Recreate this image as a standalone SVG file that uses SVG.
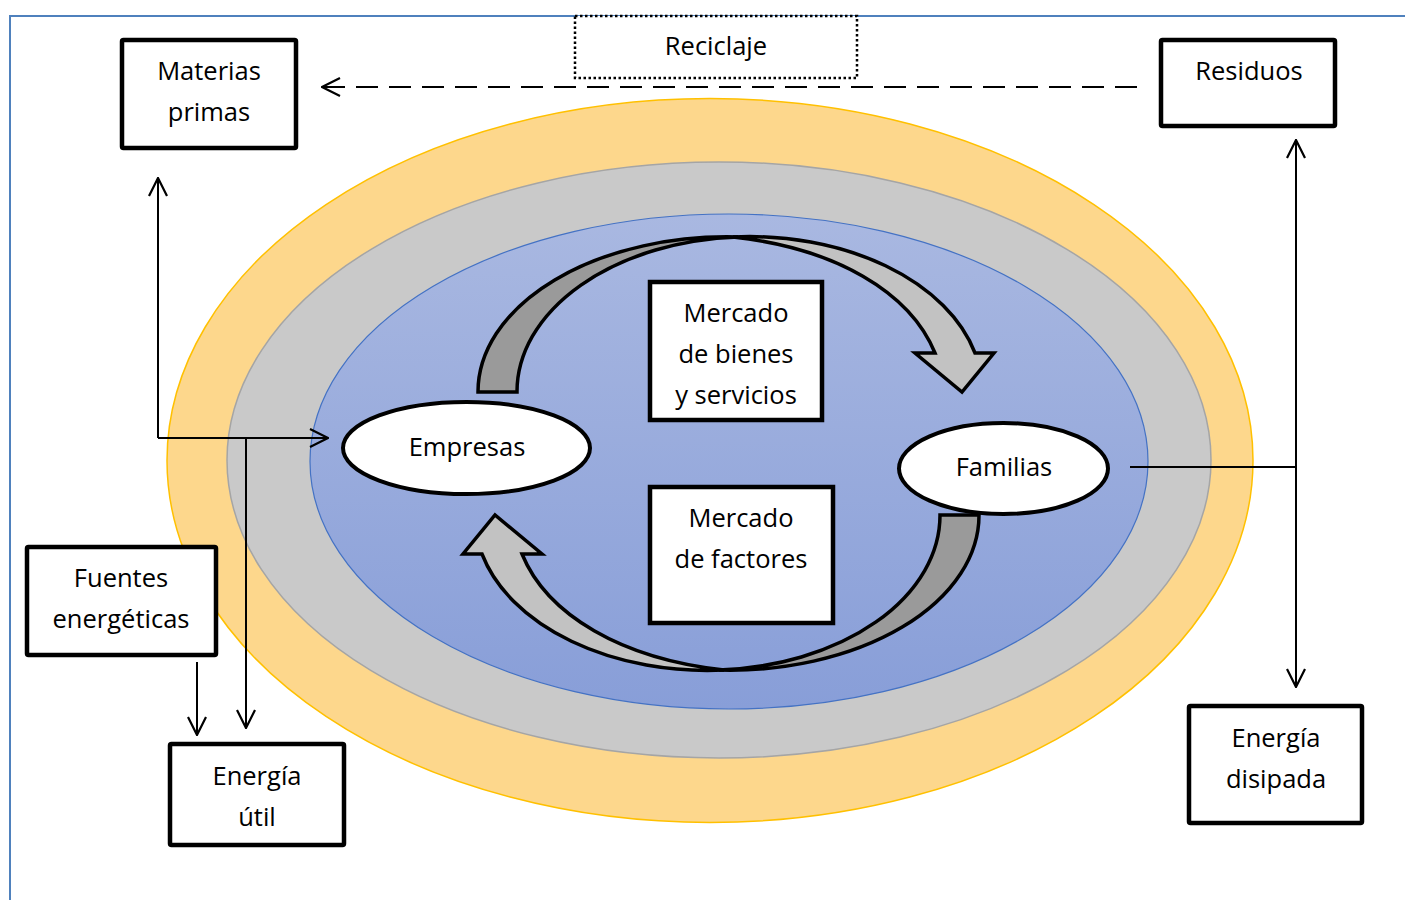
<svg xmlns="http://www.w3.org/2000/svg" width="1405" height="900" viewBox="0 0 1405 900">
  <defs>
    <linearGradient id="blueFill" x1="0" y1="0" x2="0" y2="1">
      <stop offset="0" stop-color="#a9b8e1"/>
      <stop offset="1" stop-color="#889ed8"/>
    </linearGradient>
    <marker id="open" viewBox="0 0 20 20" refX="19" refY="10" markerWidth="20" markerHeight="20" markerUnits="userSpaceOnUse" orient="auto">
      <path d="M1,1 L19,10 L1,19" fill="none" stroke="#000" stroke-width="2.2"/>
    </marker>
    <style>
      .box { fill: #fff; stroke: #000; stroke-width: 4.5; }
      .oval { fill: #fff; stroke: #000; stroke-width: 4; }
      .lbl { font-family: "Open Sans", "Liberation Sans", sans-serif; font-size: 25.5px; fill: #000; text-anchor: middle; }
      .conn { fill: none; stroke: #000; stroke-width: 2; }
      .back { fill: #9a9a9a; stroke: #000; stroke-width: 3.5; stroke-linejoin: miter; }
      .front { fill: #c2c2c2; stroke: #000; stroke-width: 3.5; stroke-linejoin: miter; }
    </style>
  </defs>

  <!-- frame -->
  <path d="M10,900 V16 H1405" fill="none" stroke="#4f81bd" stroke-width="2"/>

  <!-- nested environment rings -->
  <ellipse cx="710" cy="460.5" rx="543" ry="362" fill="#fdd78c" stroke="#ffc000" stroke-width="1.5"/>
  <ellipse cx="719" cy="460" rx="492" ry="298" fill="#c9c9c9" stroke="#a5a5a5" stroke-width="1.5"/>
  <ellipse cx="729" cy="461.5" rx="419" ry="247.5" fill="url(#blueFill)" stroke="#4472c4" stroke-width="1.2"/>

  <!-- circular flow arrows -->
  <g id="flow-goods">
    <path class="front" d="M733,237 A232.7,155 0 0 1 975,353 L994,353 L962,392 L915,353 L935,353 C910,292 835,248 733,237 Z"/>
    <path class="back" d="M478,392 A249,155 0 0 1 738,237 A232.7,155 0 0 0 517,392 Z"/>
  </g>
  <g id="flow-factors" transform="rotate(180 728.5 453.5)">
    <path class="front" d="M733,237 A232.7,155 0 0 1 975,353 L994,353 L962,392 L915,353 L935,353 C910,292 835,248 733,237 Z"/>
    <path class="back" d="M478,392 A249,155 0 0 1 738,237 A232.7,155 0 0 0 517,392 Z"/>
  </g>

  <!-- connectors -->
  <g id="connectors">
    <path class="conn" d="M1137,87 H322" stroke-width="2.5" stroke-dasharray="22 11" marker-end="url(#open)"/>
    <path class="conn" d="M158,438 V178" marker-end="url(#open)"/>
    <path class="conn" d="M158,438 H328" marker-end="url(#open)"/>
    <path class="conn" d="M246,438 V728" marker-end="url(#open)"/>
    <path class="conn" d="M197,662 V735" marker-end="url(#open)"/>
    <path class="conn" d="M1130,467 H1296"/>
    <path class="conn" d="M1296,467 V140" marker-end="url(#open)"/>
    <path class="conn" d="M1296,467 V687" marker-end="url(#open)"/>
  </g>

  <!-- nodes -->
  <g id="reciclaje">
    <rect x="575" y="16" width="282" height="62" fill="#fff" stroke="#000" stroke-width="2.5" stroke-dasharray="2.5 2.5"/>
    <text class="lbl" x="716" y="55">Reciclaje</text>
  </g>
  <g id="materias-primas">
    <rect class="box" x="122" y="40" width="174" height="108" rx="1.5"/>
    <text class="lbl" x="209" y="80">Materias</text>
    <text class="lbl" x="209" y="121">primas</text>
  </g>
  <g id="residuos">
    <rect class="box" x="1161" y="40" width="174" height="86" rx="1.5"/>
    <text class="lbl" x="1249" y="80">Residuos</text>
  </g>
  <g id="mercado-bienes">
    <rect class="box" x="650" y="282" width="172" height="138"/>
    <text class="lbl" x="736" y="322">Mercado</text>
    <text class="lbl" x="736" y="363">de bienes</text>
    <text class="lbl" x="736" y="404">y servicios</text>
  </g>
  <g id="mercado-factores">
    <rect class="box" x="650" y="487" width="183" height="136"/>
    <text class="lbl" x="741" y="527">Mercado</text>
    <text class="lbl" x="741" y="568">de factores</text>
  </g>
  <g id="empresas">
    <ellipse class="oval" cx="466.5" cy="448" rx="123.5" ry="46"/>
    <text class="lbl" x="467" y="456">Empresas</text>
  </g>
  <g id="familias">
    <ellipse class="oval" cx="1003.5" cy="468.5" rx="104.5" ry="45.5"/>
    <text class="lbl" x="1004" y="476">Familias</text>
  </g>
  <g id="fuentes-energeticas">
    <rect class="box" x="27" y="547" width="189" height="108" rx="1.5"/>
    <text class="lbl" x="121" y="587">Fuentes</text>
    <text class="lbl" x="121" y="628">energéticas</text>
  </g>
  <g id="energia-util">
    <rect class="box" x="170" y="744" width="174" height="101" rx="1.5"/>
    <text class="lbl" x="257" y="785">Energía</text>
    <text class="lbl" x="257" y="826">útil</text>
  </g>
  <g id="energia-disipada">
    <rect class="box" x="1189" y="706" width="173" height="117" rx="1.5"/>
    <text class="lbl" x="1276" y="747">Energía</text>
    <text class="lbl" x="1276" y="788">disipada</text>
  </g>
</svg>
